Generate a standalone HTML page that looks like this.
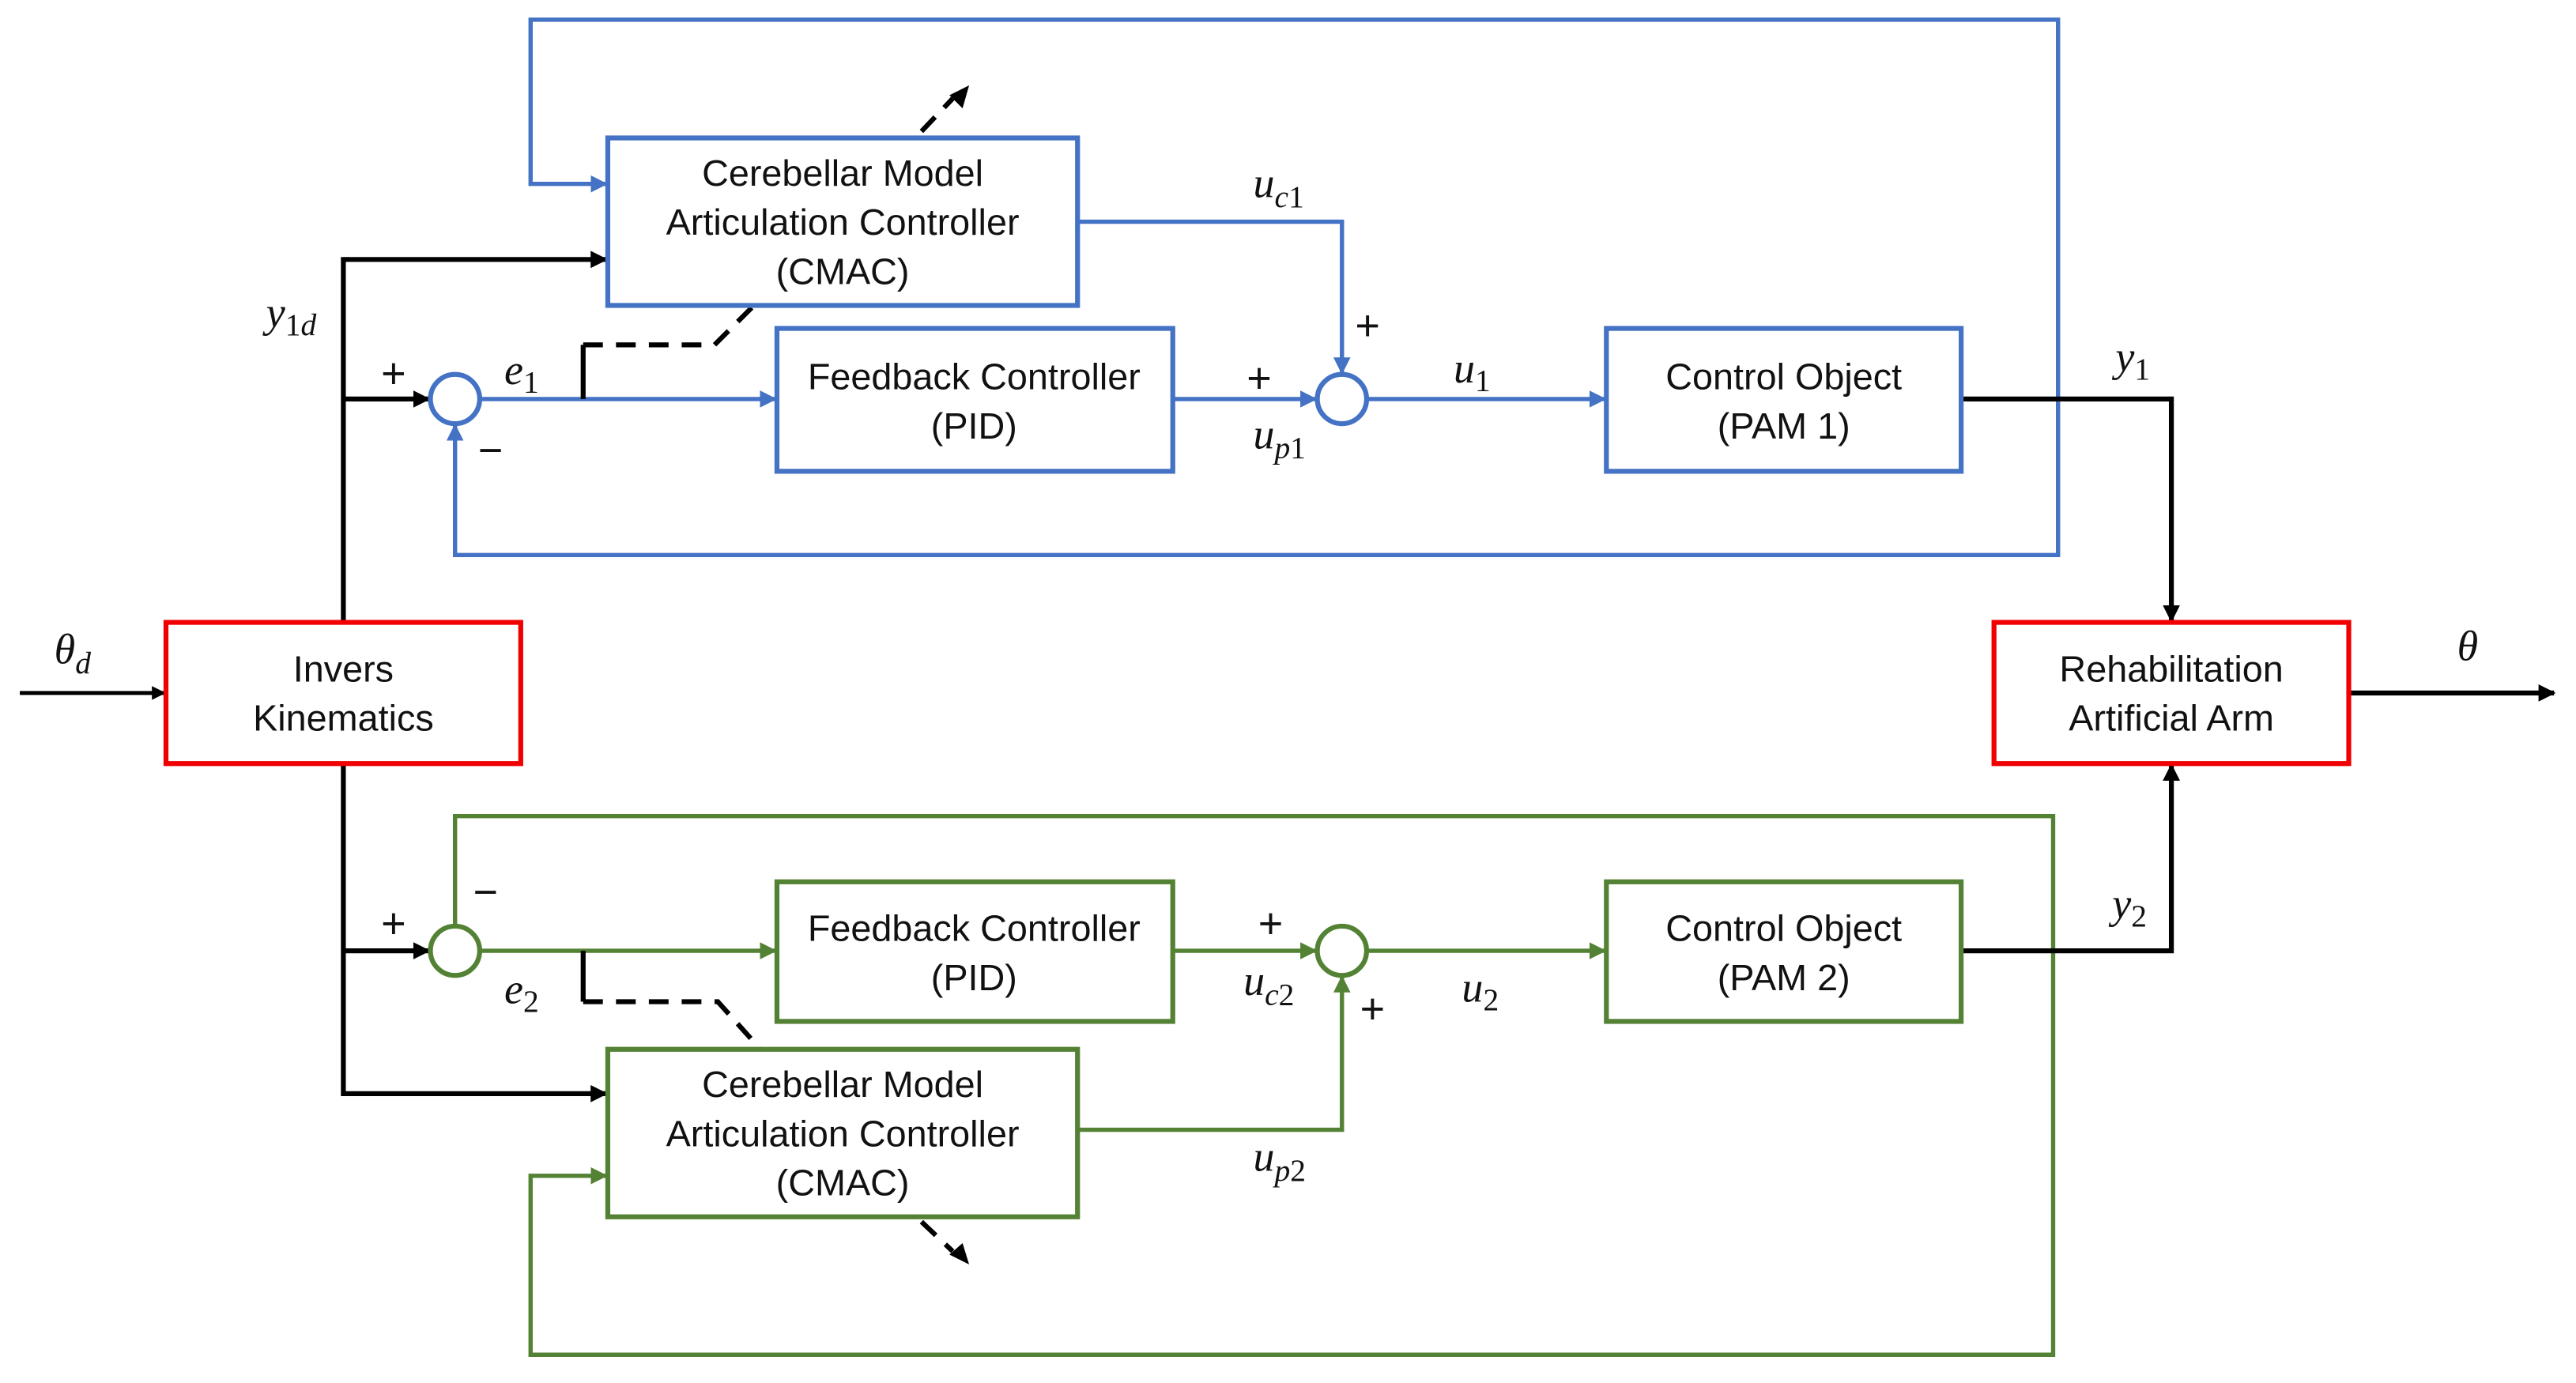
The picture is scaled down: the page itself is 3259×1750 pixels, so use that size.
<!DOCTYPE html>
<html><head><meta charset="utf-8"><style>
html,body{margin:0;padding:0;background:#fff;}
svg{display:block;}
.t{font-family:"Liberation Sans",sans-serif;font-size:22.5px;fill:#111;text-anchor:middle;}
.m{font-family:"Liberation Serif",serif;font-style:italic;font-size:26px;fill:#111;}
.s{font-size:19px;}
.n{font-style:normal;}
.p{font-family:"Liberation Sans",sans-serif;font-size:26px;fill:#111;}
</style></head><body>
<svg width="3259" height="1750" viewBox="0 0 1568.3 842.2" xmlns="http://www.w3.org/2000/svg">
<defs>
<marker id="ab" viewBox="0 0 10 10" refX="9" refY="5" markerWidth="4" markerHeight="4" orient="auto" markerUnits="strokeWidth"><path d="M0,0 L10,5 L0,10 z" fill="#4472C4"/></marker>
<marker id="ag" viewBox="0 0 10 10" refX="9" refY="5" markerWidth="4" markerHeight="4" orient="auto" markerUnits="strokeWidth"><path d="M0,0 L10,5 L0,10 z" fill="#548235"/></marker>
<marker id="ak" viewBox="0 0 10 10" refX="9" refY="5" markerWidth="3.5" markerHeight="3.5" orient="auto" markerUnits="strokeWidth"><path d="M0,0 L10,5 L0,10 z" fill="#000"/></marker>
</defs>
<g fill="none" stroke-linejoin="miter">
<g stroke="#4472C4" stroke-width="2.6">
<path d="M1253,243 L1253,12 L323,12 L323,112 L369,112" marker-end="url(#ab)"/>
<path d="M1253,243 L1253,338 L277,338 L277,259" marker-end="url(#ab)"/>
<path d="M656,135 L817,135 L817,227" marker-end="url(#ab)"/>
<path d="M292,243 L472,243" marker-end="url(#ab)"/>
<path d="M714,243 L801,243" marker-end="url(#ab)"/>
<path d="M832,243 L977,243" marker-end="url(#ab)"/>
</g>
<g stroke="#548235" stroke-width="2.6">
<path d="M277,563 L277,497 L1250,497 L1250,825 L323,825 L323,716 L369,716" marker-end="url(#ag)"/>
<path d="M292,579 L472,579" marker-end="url(#ag)"/>
<path d="M714,579 L801,579" marker-end="url(#ag)"/>
<path d="M832,579 L977,579" marker-end="url(#ag)"/>
<path d="M656,688 L817,688 L817,595" marker-end="url(#ag)"/>
</g>
<g stroke="#000" stroke-width="3">
<path d="M12,422 L100,422" marker-end="url(#ak)" stroke-width="2.4"/>
<path d="M1430,422 L1555,422" marker-end="url(#ak)"/>
<path d="M209,379 L209,158 L369,158" marker-end="url(#ak)"/>
<path d="M209,243 L261,243" marker-end="url(#ak)"/>
<path d="M209,465 L209,666 L369,666" marker-end="url(#ak)"/>
<path d="M209,579 L261,579" marker-end="url(#ak)"/>
<path d="M1194,243 L1322,243 L1322,378" marker-end="url(#ak)"/>
<path d="M1194,579 L1322,579 L1322,466" marker-end="url(#ak)"/>
<path d="M355,243 L355,210" stroke-width="3"/>
<path d="M355,210 L435,210 L463,182" stroke-dasharray="12,8"/>
<path d="M561,80 L580,60" stroke-dasharray="12,8"/>
<path d="M355,579 L355,610" stroke-width="3"/>
<path d="M355,610 L437,610 L463,639" stroke-dasharray="12,8"/>
<path d="M561,744 L580,762" stroke-dasharray="12,8"/>
</g>
<path d="M590,52 L578,58 L586,66 z" fill="#000"/>
<path d="M590,770 L586,757 L578,764 z" fill="#000"/>
<g stroke-width="3" fill="#fff">
<rect x="370" y="84" width="286" height="102" stroke="#4472C4"/>
<rect x="473" y="200" width="241" height="87" stroke="#4472C4"/>
<rect x="978" y="200" width="216" height="87" stroke="#4472C4"/>
<rect x="370" y="639" width="286" height="102" stroke="#548235"/>
<rect x="473" y="537" width="241" height="85" stroke="#548235"/>
<rect x="978" y="537" width="216" height="85" stroke="#548235"/>
<rect x="101" y="379" width="216" height="86" stroke="#F00000"/>
<rect x="1214" y="379" width="216" height="86" stroke="#F00000"/>
<circle cx="277" cy="243" r="15" stroke="#4472C4"/>
<circle cx="817" cy="243" r="15" stroke="#4472C4"/>
<circle cx="277" cy="579" r="15" stroke="#548235"/>
<circle cx="817" cy="579" r="15" stroke="#548235"/>
</g>
</g>
<text class="t" x="513" y="113">Cerebellar Model</text>
<text class="t" x="513" y="143">Articulation Controller</text>
<text class="t" x="513" y="173">(CMAC)</text>
<text class="t" x="593" y="237">Feedback Controller</text>
<text class="t" x="593" y="267">(PID)</text>
<text class="t" x="1086" y="237">Control Object</text>
<text class="t" x="1086" y="267">(PAM 1)</text>
<text class="t" x="513" y="668">Cerebellar Model</text>
<text class="t" x="513" y="698">Articulation Controller</text>
<text class="t" x="513" y="728">(CMAC)</text>
<text class="t" x="593" y="573">Feedback Controller</text>
<text class="t" x="593" y="603">(PID)</text>
<text class="t" x="1086" y="573">Control Object</text>
<text class="t" x="1086" y="603">(PAM 2)</text>
<text class="t" x="209" y="415">Invers</text>
<text class="t" x="209" y="445">Kinematics</text>
<text class="t" x="1322" y="415">Rehabilitation</text>
<text class="t" x="1322" y="445">Artificial Arm</text>

<text class="m" x="33" y="404">θ<tspan class="s" dy="6">d</tspan></text>
<text class="m" x="162" y="199">y<tspan class="s" dy="5"><tspan class="n">1</tspan>d</tspan></text>
<text class="p" x="232" y="236">+</text>
<text class="m" x="307" y="234">e<tspan class="s n" dy="5">1</tspan></text>
<text class="p" x="291" y="283">−</text>
<text class="m" x="763" y="120">u<tspan class="s" dy="6">c<tspan class="n">1</tspan></tspan></text>
<text class="p" x="825" y="207">+</text>
<text class="p" x="759" y="239">+</text>
<text class="m" x="763" y="273">u<tspan class="s" dy="6">p<tspan class="n">1</tspan></tspan></text>
<text class="m" x="885" y="233">u<tspan class="s n" dy="5">1</tspan></text>
<text class="m" x="1288" y="226">y<tspan class="s n" dy="5">1</tspan></text>
<text class="m" x="1496" y="402">θ</text>
<text class="p" x="232" y="571">+</text>
<text class="p" x="288" y="552">−</text>
<text class="m" x="307" y="611">e<tspan class="s n" dy="5">2</tspan></text>
<text class="p" x="766" y="571">+</text>
<text class="m" x="757" y="606">u<tspan class="s" dy="6">c<tspan class="n">2</tspan></tspan></text>
<text class="p" x="828" y="623">+</text>
<text class="m" x="890" y="610">u<tspan class="s n" dy="5">2</tspan></text>
<text class="m" x="763" y="713">u<tspan class="s" dy="6">p<tspan class="n">2</tspan></tspan></text>
<text class="m" x="1286" y="559">y<tspan class="s n" dy="5">2</tspan></text>
</svg>
</body></html>
